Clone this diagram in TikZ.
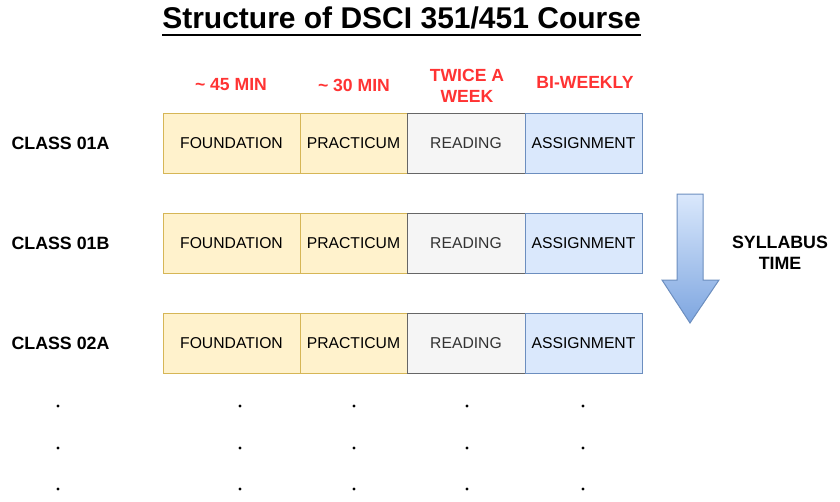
\documentclass[tikz,border=0pt]{standalone}
\usepackage{fontspec}
\setmainfont{Liberation Sans}
\definecolor{yfill}{HTML}{FFF2CC}
\definecolor{ydraw}{HTML}{D6B656}
\definecolor{gfill}{HTML}{F5F5F5}
\definecolor{gdraw}{HTML}{666666}
\definecolor{gtext}{HTML}{333333}
\definecolor{bfill}{HTML}{DAE8FC}
\definecolor{bdraw}{HTML}{6C8EBF}
\definecolor{bdark}{HTML}{7EA6E0}
\definecolor{redlab}{HTML}{FF3333}
\begin{document}
\begin{tikzpicture}[x=1pt,y=-1pt,
  cell/.style={draw, line width=1pt, minimum height=60pt, inner sep=0pt, font=\fontsize{15.7}{18}\selectfont},
  found/.style={cell, fill=yfill, draw=ydraw, minimum width=137pt},
  pract/.style={cell, fill=yfill, draw=ydraw, minimum width=107pt},
  readb/.style={cell, fill=gfill, draw=gdraw, text=gtext, minimum width=118pt},
  assign/.style={cell, fill=bfill, draw=bdraw, minimum width=117pt},
  classlab/.style={font=\bfseries\fontsize{17.8}{21}\selectfont, inner sep=0pt},
  redl/.style={font=\bfseries\fontsize{17.6}{21}\selectfont, text=redlab, align=center, inner sep=0pt},
  dotm/.style={circle, fill=black, inner sep=0pt, minimum size=3.2pt}
]
\useasboundingbox (0,0) rectangle (840,501);
\node[font=\bfseries\fontsize{30}{34}\selectfont, inner sep=0pt] (title) at (401.5,18) {Structure of DSCI 351/451 Course};
\draw[line width=2pt] ([yshift=-6.5pt]title.base west) -- ([yshift=-6.5pt]title.base east);

\node[redl] (t1) at (231,85) {\textasciitilde{} 45 MIN};
\node[redl] (t2) at (354,85) {\textasciitilde{} 30 MIN};
\node[redl] (t3) at (467,85.5) {TWICE A\\WEEK};
\node[redl] (t4) at (585,82) {BI-WEEKLY};

\foreach \r/\y/\lab in {1/143/CLASS 01A, 2/243/CLASS 01B, 3/343/CLASS 02A}{
  \node[classlab] (c\r) at (60.5,\y) {\lab};
  \node[found] (f\r) at (231.5,\y) {FOUNDATION};
  \node[pract] (p\r) at (353.5,\y) {PRACTICUM};
  \node[readb] (r\r) at (466,\y) {READING};
  \node[assign] (a\r) at (583.5,\y) {ASSIGNMENT};
}

\shade[top color=bfill, bottom color=bdark, draw=bdraw, line width=1pt]
  (677,194) -- (703,194) -- (703,280) -- (719,280) -- (690,323) -- (662,280) -- (677,280) -- cycle;
\node[classlab, align=center] (syl) at (780,252.5) {SYLLABUS\\TIME};

\foreach \y [count=\i] in {406,448,489}{
  \foreach \x [count=\j] in {58,240,354,467,583}{
    \node[dotm] (d\i\j) at (\x,\y) {};
  }
}
\end{tikzpicture}
\end{document}
